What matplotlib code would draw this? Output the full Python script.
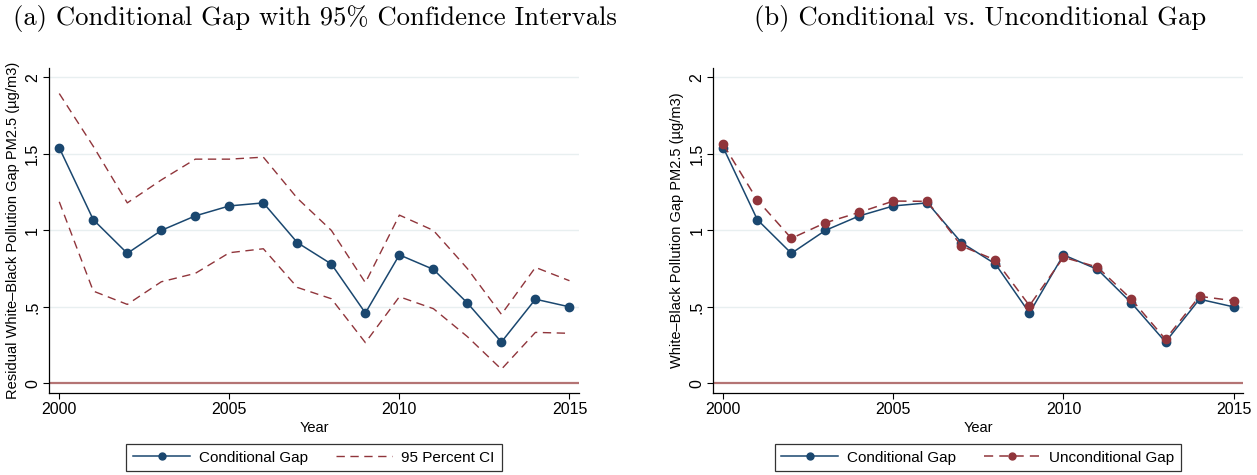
import matplotlib
matplotlib.use("Agg")
import matplotlib.pyplot as plt
from matplotlib.lines import Line2D

plt.rcParams['font.family'] = ['Liberation Sans', 'DejaVu Sans']

years = list(range(2000, 2016))
conditional = [1.54, 1.07, 0.85, 1.00, 1.095, 1.16, 1.18, 0.92, 0.78, 0.46,
               0.84, 0.745, 0.525, 0.27, 0.55, 0.50]
ci_upper = [1.895, 1.55, 1.18, 1.33, 1.466, 1.466, 1.479, 1.21, 1.00, 0.658,
            1.10, 1.00, 0.75, 0.451, 0.758, 0.671]
ci_lower = [1.187, 0.603, 0.516, 0.664, 0.719, 0.854, 0.88, 0.627, 0.553, 0.266,
            0.566, 0.488, 0.305, 0.092, 0.333, 0.327]
unconditional = [1.562, 1.198, 0.948, 1.05, 1.118, 1.192, 1.19, 0.898, 0.806, 0.508,
                 0.824, 0.76, 0.549, 0.288, 0.569, 0.54]

yticks = [0, 0.5, 1, 1.5, 2]
ytick_labels = ["0", ".5", "1", "1.5", "2"]
xticks = [2000, 2005, 2010, 2015]

navy = "#1a476f"
maroon = "#90353b"
zero_col = "#b47474"
grid_col = "#e8eff0"

fig = plt.figure(figsize=(12.57, 4.75), dpi=100)
ax1 = fig.add_axes([0.0392, 0.172, 0.4214, 0.6848])
ax2 = fig.add_axes([0.5675, 0.172, 0.4214, 0.6848])

dash = (0, (6, 4))

def style(ax, ylabel):
    ax.set_xlim(1999.706, 2015.28)
    ax.set_ylim(-0.0654, 2.062)
    for y in yticks[1:]:
        ax.axhline(y, color=grid_col, lw=1.0, zorder=0)
    ax.axhline(0, color=zero_col, lw=1.6, zorder=1)
    ax.set_yticks(yticks)
    ax.set_yticklabels(ytick_labels, rotation=90, va="center")
    ax.set_xticks(xticks)
    ax.tick_params(axis="both", direction="out", length=4.5, width=0.8,
                   labelsize=11.5, pad=2)
    ax.spines["top"].set_visible(False)
    ax.spines["right"].set_visible(False)
    ax.spines["left"].set_linewidth(0.9)
    ax.spines["bottom"].set_linewidth(0.9)
    ax.set_xlabel("Year", fontsize=10.5, labelpad=3)
    ax.set_ylabel(ylabel, fontsize=10.5, labelpad=4)

# panel (a)
style(ax1, "Residual White\u2013Black Pollution Gap PM2.5 (\u00b5g/m3)")
ax1.plot(years, ci_upper, color=maroon, lw=1.0, ls=dash, zorder=2)
ax1.plot(years, ci_lower, color=maroon, lw=1.0, ls=dash, zorder=2)
ax1.plot(years, conditional, color=navy, lw=1.1, marker="o", ms=6, zorder=3)

# panel (b)
style(ax2, "White\u2013Black Pollution Gap PM2.5 (\u00b5g/m3)")
ax2.plot(years, conditional, color=navy, lw=1.1, marker="o", ms=6, zorder=3)
ax2.plot(years, unconditional, color=maroon, lw=1.1, ls=dash, marker="o", ms=6, zorder=4)

leg_kw = dict(loc="center", ncol=2, fontsize=11, frameon=True, fancybox=False,
              handlelength=3.7, handletextpad=0.6, columnspacing=1.8,
              borderpad=0.45, edgecolor="black")

h_cond = Line2D([], [], color=navy, lw=1.1, marker="o", ms=5)
h_ci = Line2D([], [], color=maroon, lw=1.0, ls=dash)
h_unc = Line2D([], [], color=maroon, lw=1.1, ls=dash, marker="o", ms=5)

l1 = fig.legend([h_cond, h_ci], ["Conditional Gap", "95 Percent CI"],
                bbox_to_anchor=(0.2498, 0.0368), **leg_kw)
l2 = fig.legend([h_cond, h_unc], ["Conditional Gap", "Unconditional Gap"],
                bbox_to_anchor=(0.778, 0.0368), **leg_kw)
for l in (l1, l2):
    l.get_frame().set_linewidth(0.9)

fig.text(314.5 / 1257, 1 - 18 / 475, "(a) Conditional Gap with 95% Confidence Intervals",
         family="cmr10", fontsize=19.2, ha="center", va="center")
fig.text(980 / 1257, 1 - 18 / 475, "(b) Conditional vs. Unconditional Gap",
         family="cmr10", fontsize=19.2, ha="center", va="center")

fig.savefig("out.png", dpi=100)
